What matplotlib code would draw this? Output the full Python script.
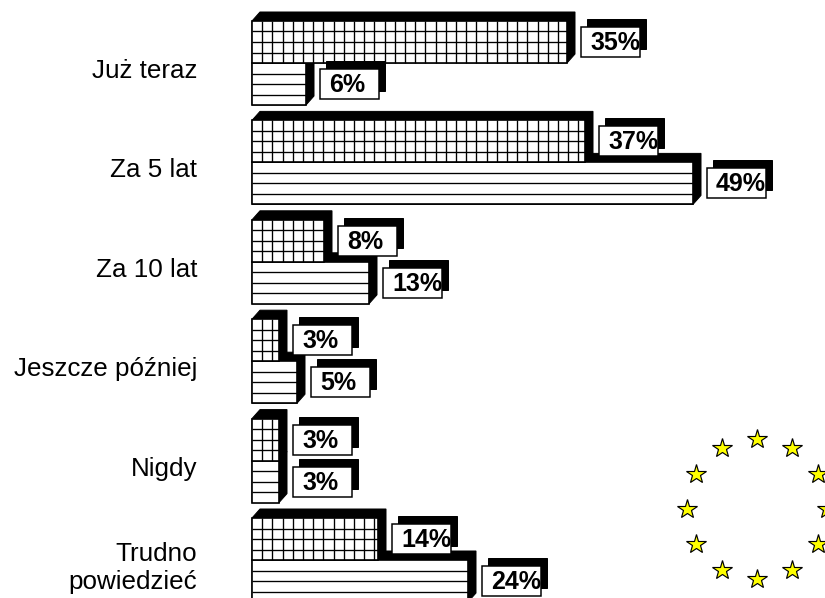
import matplotlib
matplotlib.use("Agg")
import matplotlib.pyplot as plt
from matplotlib.patches import Polygon, Rectangle
from matplotlib.collections import LineCollection
import numpy as np

# ---- data ----
categories = ["Już teraz", "Za 5 lat", "Za 10 lat", "Jeszcze później", "Nigdy",
              "Trudno\npowiedzieć"]
grid_values = [35, 37, 8, 3, 3, 14]     # upper (checkered) bars
line_values = [6, 49, 13, 5, 3, 24]     # lower (striped) bars
value_labels_grid = [f"{v}%" for v in grid_values]
value_labels_line = [f"{v}%" for v in line_values]

# ---- layout (pixels) ----
W, H, DPI = 825, 598, 120
PX_PER_PCT = 9.0
X0_PX = 252
ROW_PX = 99.4
Y0_PX = 63

plt.rcParams["font.family"] = ["Liberation Sans", "DejaVu Sans"]

fig = plt.figure(figsize=(W / DPI, H / DPI), dpi=DPI)
ax = fig.add_axes([0, 0, 1, 1])
ax.set_xlim(-X0_PX / PX_PER_PCT, (W - X0_PX) / PX_PER_PCT)
ax.set_ylim((H - Y0_PX) / ROW_PX, -Y0_PX / ROW_PX)
ax.axis("off")


def px(p):
    return p / PX_PER_PCT


def py(p):
    return p / ROW_PX


n = len(categories)
yc = np.arange(n, dtype=float)
bar_h = py(42)
dx, dy = px(8), py(9)
LW_PATTERN = 0.8


def extrusion(x1, ytop, ybot, z):
    pts = [(0, ybot), (0, ytop), (dx, ytop - dy), (x1 + dx, ytop - dy),
           (x1 + dx, ybot - dy), (x1, ybot)]
    ax.add_patch(Polygon(pts, closed=True, fc="black", ec="black", lw=0.6, zorder=z))


def pattern(v, ytop, ybot, vertical, z):
    segs = []
    for k in (1, 2, 3):
        yy = ytop + (ybot - ytop) * k / 4
        segs.append([(0, yy), (v, yy)])
    if vertical:
        step = px(10.2)
        xx = step
        while xx < v - px(2):
            segs.append([(xx, ytop), (xx, ybot)])
            xx += step
    ax.add_collection(LineCollection(segs, colors="black", linewidths=LW_PATTERN,
                                     zorder=z))


# lower striped bars
for y, v in zip(yc, line_values):
    extrusion(v, y, y + bar_h, 1)
ax.barh(yc + bar_h / 2, line_values, height=bar_h, left=0, color="white",
        edgecolor="black", linewidth=1.0, zorder=2)
for y, v in zip(yc, line_values):
    pattern(v, y, y + bar_h, False, 2.5)

# upper checkered bars
for y, v in zip(yc, grid_values):
    extrusion(v, y - bar_h, y, 3)
ax.barh(yc - bar_h / 2, grid_values, height=bar_h, left=0, color="white",
        edgecolor="black", linewidth=1.0, zorder=4)
for y, v in zip(yc, grid_values):
    pattern(v, y - bar_h, y, True, 4.5)


def value_box(v, ycen, label):
    left = v + px(14)
    w, h = px(59), py(30)
    ax.add_patch(Rectangle((left + px(6), ycen - h / 2 - py(8)), w, h,
                           fc="black", ec="black", lw=0.6, zorder=5))
    ax.add_patch(Rectangle((left, ycen - h / 2), w, h,
                           fc="white", ec="black", lw=0.9, zorder=6))
    ax.text(left + px(9), ycen + py(1), label, ha="left", va="center",
            fontsize=15, fontweight="bold", color="black", zorder=7)


for y, v, lab in zip(yc, grid_values, value_labels_grid):
    value_box(v, y - bar_h / 2, lab)
for y, v, lab in zip(yc, line_values, value_labels_line):
    value_box(v, y + bar_h / 2, lab)

# category labels
for y, cat in zip(yc, categories):
    ax.text(px(197 - X0_PX), y + py(8), cat, ha="right", va="center",
            multialignment="right", fontsize=15.6, color="black", linespacing=1.25)

# EU stars logo
cx, cy, r = px(757 - X0_PX), py(509 - Y0_PX), 70
ang = np.deg2rad(np.arange(12) * 30)
ax.plot(cx + px(r) * np.cos(ang), cy - py(r) * np.sin(ang), ls="none",
        marker="*", ms=12, mfc="#FFFF00", mec="black", mew=0.7, zorder=8,
        clip_on=True)

fig.savefig("out.png", dpi=DPI, facecolor="white")
